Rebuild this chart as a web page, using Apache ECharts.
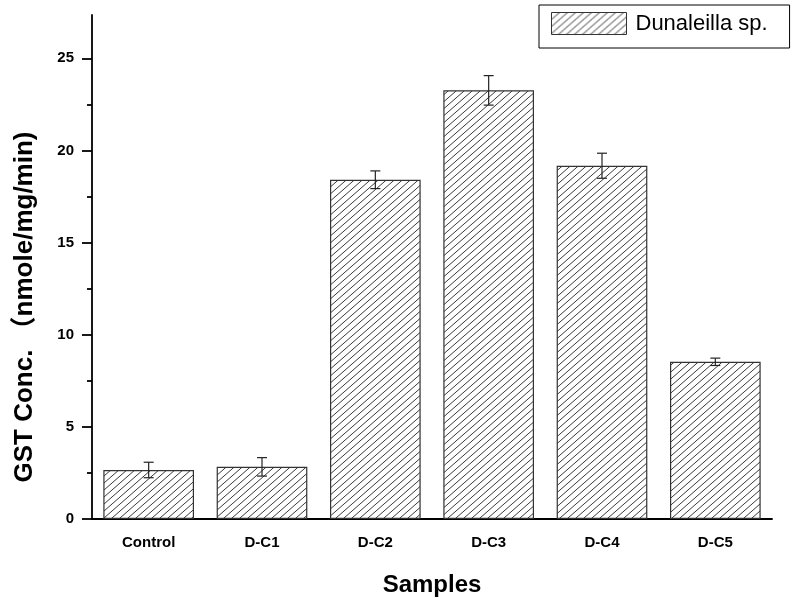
<!DOCTYPE html>
<html>
<head>
<meta charset="utf-8">
<script src="https://cdn.jsdelivr.net/npm/echarts@6/dist/echarts.min.js"></script>
<style>
  html, body { margin: 0; padding: 0; background: #fff; }
  #chart { width: 793px; height: 598px; }
</style>
</head>
<body>
<div id="chart"></div>
<script>
// Samples and measured GST activity (nmole/mg/min) with standard deviations
const categories = ['Control', 'D-C1', 'D-C2', 'D-C3', 'D-C4', 'D-C5'];
const gstValues = [2.66, 2.83, 18.41, 23.26, 19.17, 8.53];
const gstErrors = [0.42, 0.5, 0.48, 0.8, 0.68, 0.2];
const majorTicks = [0, 5, 10, 15, 20, 25];
const minorTicks = [2.5, 7.5, 12.5, 17.5, 22.5];
const seriesName = 'Dunaleilla sp.';

// Diagonal hatch fill for the bars
function makeHatch() {
  const w = 8, h = 7;
  const c = document.createElement('canvas');
  c.width = w; c.height = h;
  const ctx = c.getContext('2d');
  ctx.fillStyle = '#ffffff';
  ctx.fillRect(0, 0, w, h);
  ctx.strokeStyle = '#3a3a3a';
  ctx.lineWidth = 1;
  for (let k = -1; k <= 1; k++) {
    ctx.beginPath();
    ctx.moveTo(-2, h + 2 * h / w + k * h);
    ctx.lineTo(w + 2, -2 * h / w + k * h);
    ctx.stroke();
  }
  return c;
}
const hatch = { image: makeHatch(), repeat: 'repeat' };

const errorData = gstValues.map((v, i) => [i, v - gstErrors[i], v + gstErrors[i]]);

const font = '"Liberation Sans", Arial, "Noto Sans CJK SC", sans-serif';
const chart = echarts.init(document.getElementById('chart'), null, { renderer: 'canvas' });

chart.setOption({
  backgroundColor: '#fff',
  animation: false,
  grid: { left: 92, right: 21, top: 15, bottom: 79, containLabel: false, outerBoundsMode: 'none' },
  legend: {
    left: 539,
    top: 5,
    padding: [7, 22, 13, 12],
    borderColor: '#000',
    borderWidth: 1,
    icon: 'rect',
    itemWidth: 75,
    itemHeight: 22,
    itemStyle: { borderColor: '#333', borderWidth: 1 },
    textStyle: { fontFamily: font, fontSize: 22, color: '#000', padding: [0, 0, 0, 4] },
    data: [seriesName]
  },
  xAxis: [
    {
      type: 'category',
      data: categories,
      position: 'bottom',
      axisLine: { lineStyle: { color: '#000', width: 1.8 } },
      axisTick: { alignWithLabel: true, length: 10, lineStyle: { color: '#000', width: 1.8 } },
      axisLabel: { fontFamily: font, fontSize: 15, fontWeight: 'bold', color: '#000', margin: 16 },
      name: 'Samples',
      nameLocation: 'middle',
      nameGap: 54,
      nameTextStyle: { fontFamily: font, fontSize: 24, fontWeight: 'bold', color: '#000' }
    },
    {
      type: 'category',
      data: categories,
      position: 'bottom',
      axisLine: { show: false },
      axisTick: { length: 5, lineStyle: { color: '#000', width: 1.8 } },
      axisLabel: { show: false }
    }
  ],
  yAxis: [
    {
      type: 'value',
      position: 'left',
      min: 0,
      max: 27.35,
      interval: 5,
      splitLine: { show: false },
      axisLine: { show: true, lineStyle: { color: '#000', width: 1.8 } },
      axisTick: { show: true, length: 10, customValues: majorTicks, lineStyle: { color: '#000', width: 1.8 } },
      axisLabel: { customValues: majorTicks, fontFamily: font, fontSize: 15, fontWeight: 'bold', color: '#000', margin: 18 },
      name: 'GST Conc. （nmole/mg/min)',
      nameLocation: 'middle',
      nameRotate: 90,
      nameGap: 54,
      nameTextStyle: { fontFamily: font, fontSize: 26, fontWeight: 'bold', color: '#000', padding: [0, 80, 0, 0] }
    },
    {
      type: 'value',
      position: 'left',
      min: 0,
      max: 27.35,
      interval: 5,
      splitLine: { show: false },
      axisLine: { show: false },
      axisTick: { show: true, length: 5, customValues: minorTicks, lineStyle: { color: '#000', width: 1.8 } },
      axisLabel: { show: false }
    }
  ],
  series: [
    {
      name: seriesName,
      type: 'bar',
      xAxisIndex: 0,
      yAxisIndex: 0,
      data: gstValues,
      barWidth: '80%',
      itemStyle: { color: hatch, borderColor: '#333', borderWidth: 1.2 },
      z: 2
    },
    {
      name: 'error',
      type: 'custom',
      xAxisIndex: 0,
      yAxisIndex: 0,
      data: errorData,
      z: 5,
      renderItem: function (params, api) {
        const x = api.value(0);
        const lo = api.coord([x, api.value(1)]);
        const hi = api.coord([x, api.value(2)]);
        const cap = 5;
        const style = { stroke: '#222', lineWidth: 1.2, fill: null };
        return {
          type: 'group',
          children: [
            { type: 'line', shape: { x1: hi[0], y1: hi[1], x2: lo[0], y2: lo[1] }, style: style },
            { type: 'line', shape: { x1: hi[0] - cap, y1: hi[1], x2: hi[0] + cap, y2: hi[1] }, style: style },
            { type: 'line', shape: { x1: lo[0] - cap, y1: lo[1], x2: lo[0] + cap, y2: lo[1] }, style: style }
          ]
        };
      }
    }
  ]
});
</script>
</body>
</html>
